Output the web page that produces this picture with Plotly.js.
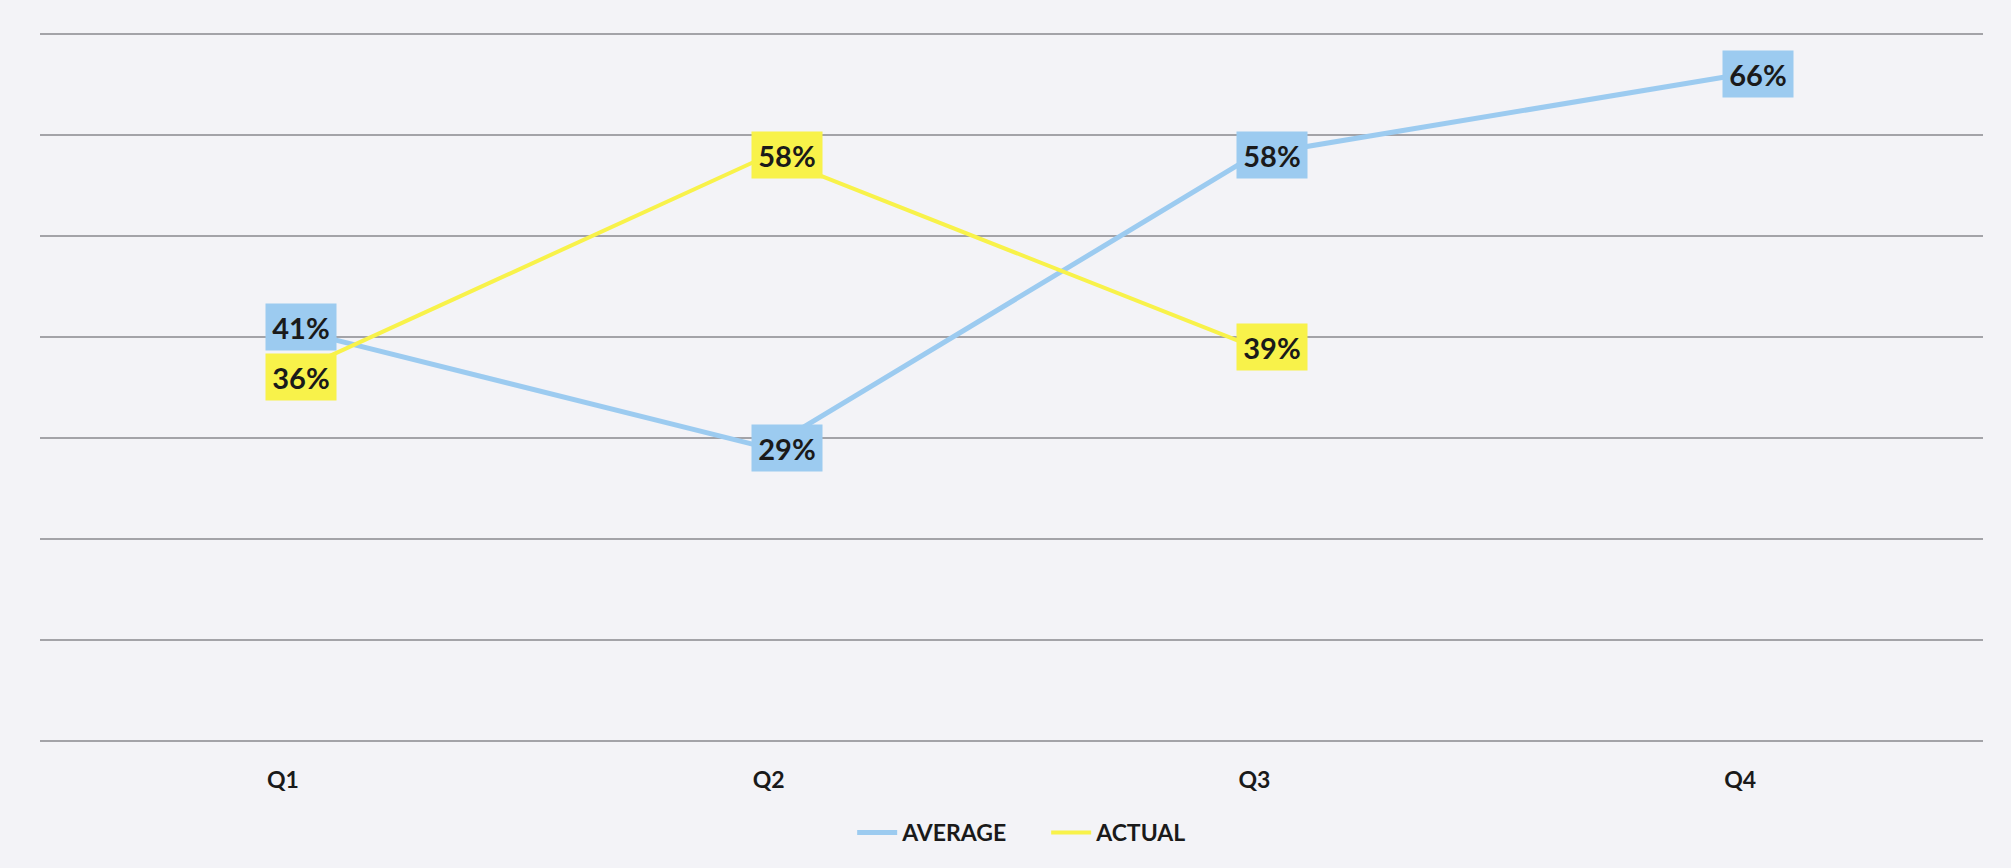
<!DOCTYPE html>
<html>
<head>
<meta charset="utf-8">
<script src="https://cdn.plot.ly/plotly-3.0.1.min.js"></script>
<style>
html,body{margin:0;padding:0;background:#f3f3f7;}
#chart{width:2011px;height:868px;}
</style>
</head>
<body>
<div id="chart"></div>
<script>
var categories = ["Q1", "Q2", "Q3", "Q4"];
var average = [0.41, 0.29, 0.58, 0.66];
var actual = [0.36, 0.58, 0.39, null];
var seriesNames = ["AVERAGE", "ACTUAL"];

var blue = "#9ccbf0";
var yellow = "#f8f24a";
var font = "Lato, 'Open Sans', sans-serif";

var traces = [
  {x: categories, y: average, name: seriesNames[0], type: "scatter", mode: "lines",
   line: {color: blue, width: 5}},
  {x: categories, y: actual, name: seriesNames[1], type: "scatter", mode: "lines",
   line: {color: yellow, width: 4}}
];

var annotations = [];
function addLabels(vals, color) {
  vals.forEach(function (v, i) {
    if (v === null) return;
    annotations.push({
      x: categories[i], y: v, xref: "x", yref: "y",
      text: Math.round(v * 100) + "%",
      showarrow: false, xshift: 18,
      bgcolor: color, width: 70, height: 46, borderpad: 0,
      font: {family: font, size: 29, color: "#1a1a1a", weight: "bold"}
    });
  });
}
addLabels(average, blue);
addLabels(actual, yellow);

var layout = {
  width: 2011, height: 868,
  paper_bgcolor: "#f3f3f7", plot_bgcolor: "#f3f3f7",
  margin: {l: 40, r: 28, t: 32, b: 127},
  showlegend: true,
  legend: {orientation: "h", x: 0.418, xanchor: "left", y: -0.129, yanchor: "middle",
           font: {family: font, size: 23, color: "#1a1a1a", weight: "bold"},
           entrywidth: 139, entrywidthmode: "pixels",
           itemwidth: 40, bgcolor: "rgba(0,0,0,0)"},
  xaxis: {type: "category", range: [-0.5, 3.5], showgrid: false, zeroline: false, showline: false,
          ticks: "outside", ticklen: 18, tickcolor: "rgba(0,0,0,0)",
          tickfont: {family: font, size: 23, color: "#1a1a1a", weight: "bold"},
          fixedrange: true},
  yaxis: {range: [0, 0.702], dtick: 0.1, showgrid: true, gridcolor: "#a3a3a8", gridwidth: 2,
          zeroline: true, zerolinecolor: "#a3a3a8", zerolinewidth: 2,
          showticklabels: false, showline: false, fixedrange: true},
  annotations: annotations
};

Plotly.newPlot("chart", traces, layout, {displayModeBar: false, staticPlot: true});
</script>
</body>
</html>
